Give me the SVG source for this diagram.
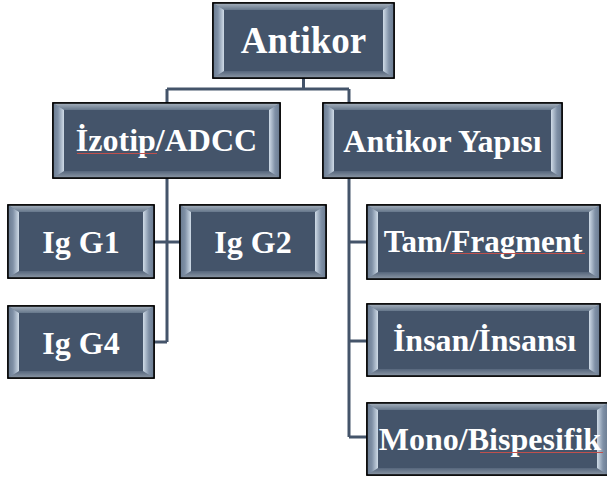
<svg xmlns="http://www.w3.org/2000/svg" width="607" height="477" viewBox="0 0 607 477">
<style>
.o{fill:#6b7a8e;stroke:#000;stroke-width:1.5}
.t{fill:url(#gt)}
.b{fill:url(#gb)}
.l{fill:url(#gl)}
.r{fill:url(#gr)}
.in{fill:#44546a}
.fr{fill:none;stroke:#000;stroke-width:1.5}
.c{fill:none;stroke:#44546a;stroke-width:3}
.sp{stroke:#c0504d;stroke-width:1.2;fill:none}
</style>
<defs>
<linearGradient id="gt" x1="0" y1="0" x2="0" y2="1"><stop offset="0" stop-color="#a7b2be"/><stop offset="1" stop-color="#66778b"/></linearGradient>
<linearGradient id="gb" x1="0" y1="1" x2="0" y2="0"><stop offset="0" stop-color="#8c98a6"/><stop offset="1" stop-color="#56667c"/></linearGradient>
<linearGradient id="gl" x1="0" y1="0" x2="1" y2="0"><stop offset="0" stop-color="#6a7b90"/><stop offset="0.45" stop-color="#7f90a6"/><stop offset="1" stop-color="#cfdbe7"/></linearGradient>
<linearGradient id="gr" x1="1" y1="0" x2="0" y2="0"><stop offset="0" stop-color="#6a7b90"/><stop offset="0.45" stop-color="#7f90a6"/><stop offset="1" stop-color="#cfdbe7"/></linearGradient>
</defs>
<rect width="607" height="477" fill="#fff"/>
<g id="connectors">
<path class="c" d="M303.5 78V89M167 89H349M167 89V103M349 89V103"/>
<path class="c" d="M167 178V342M154 342H167M154 242H180"/>
<path class="c" d="M349 178V437M349 242H367M349 341H367M349 437H367"/>
</g>
<g font-family="Liberation Serif" font-weight="bold" font-size="32" fill="#fff" text-anchor="middle">
<g id="antikor">
<rect class="o" x="213" y="3" width="181" height="75"/>
<polygon class="t" points="213,3 394,3 383,10 224,10"/>
<polygon class="b" points="213,78 394,78 383,71 224,71"/>
<polygon class="l" points="213,3 224,10 224,71 213,78"/>
<polygon class="r" points="394,3 383,10 383,71 394,78"/>
<rect class="in" x="224" y="10" width="159" height="61"/>
<rect class="fr" x="213" y="3" width="181" height="75"/>
<text x="303.5" y="53" font-size="37">Antikor</text>
</g>
<g id="izotip">
<rect class="o" x="53" y="103" width="227" height="75"/>
<polygon class="t" points="53,103 280,103 269,110 64,110"/>
<polygon class="b" points="53,178 280,178 269,171 64,171"/>
<polygon class="l" points="53,103 64,110 64,171 53,178"/>
<polygon class="r" points="280,103 269,110 269,171 280,178"/>
<rect class="in" x="64" y="110" width="205" height="61"/>
<rect class="fr" x="53" y="103" width="227" height="75"/>
<text x="166.5" y="151">İzotip/ADCC</text>
<path class="sp" d="M77 153.5H157"/>
</g>
<g id="yapisi">
<rect class="o" x="323" y="103" width="239" height="75"/>
<polygon class="t" points="323,103 562,103 551,110 334,110"/>
<polygon class="b" points="323,178 562,178 551,171 334,171"/>
<polygon class="l" points="323,103 334,110 334,171 323,178"/>
<polygon class="r" points="562,103 551,110 551,171 562,178"/>
<rect class="in" x="334" y="110" width="217" height="61"/>
<rect class="fr" x="323" y="103" width="239" height="75"/>
<text x="442.5" y="152">Antikor Yapısı</text>
</g>
<g id="g1">
<rect class="o" x="8" y="205" width="146" height="73"/>
<polygon class="t" points="8,205 154,205 143,212 19,212"/>
<polygon class="b" points="8,278 154,278 143,271 19,271"/>
<polygon class="l" points="8,205 19,212 19,271 8,278"/>
<polygon class="r" points="154,205 143,212 143,271 154,278"/>
<rect class="in" x="19" y="212" width="124" height="59"/>
<rect class="fr" x="8" y="205" width="146" height="73"/>
<text x="81" y="253">Ig G1</text>
</g>
<g id="g2">
<rect class="o" x="180" y="205" width="146" height="73"/>
<polygon class="t" points="180,205 326,205 315,212 191,212"/>
<polygon class="b" points="180,278 326,278 315,271 191,271"/>
<polygon class="l" points="180,205 191,212 191,271 180,278"/>
<polygon class="r" points="326,205 315,212 315,271 326,278"/>
<rect class="in" x="191" y="212" width="124" height="59"/>
<rect class="fr" x="180" y="205" width="146" height="73"/>
<text x="253" y="253">Ig G2</text>
</g>
<g id="g4">
<rect class="o" x="8" y="306" width="146" height="72"/>
<polygon class="t" points="8,306 154,306 143,313 19,313"/>
<polygon class="b" points="8,378 154,378 143,371 19,371"/>
<polygon class="l" points="8,306 19,313 19,371 8,378"/>
<polygon class="r" points="154,306 143,313 143,371 154,378"/>
<rect class="in" x="19" y="313" width="124" height="58"/>
<rect class="fr" x="8" y="306" width="146" height="72"/>
<text x="81" y="354">Ig G4</text>
</g>
<g id="tam">
<rect class="o" x="367" y="205" width="233" height="74"/>
<polygon class="t" points="367,205 600,205 589,212 378,212"/>
<polygon class="b" points="367,279 600,279 589,272 378,272"/>
<polygon class="l" points="367,205 378,212 378,272 367,279"/>
<polygon class="r" points="600,205 589,212 589,272 600,279"/>
<rect class="in" x="378" y="212" width="211" height="60"/>
<rect class="fr" x="367" y="205" width="233" height="74"/>
<text x="483" y="252" font-size="31">Tam/Fragment</text>
<path class="sp" d="M450 253.5H585"/>
</g>
<g id="insan">
<rect class="o" x="367" y="304" width="233" height="72"/>
<polygon class="t" points="367,304 600,304 589,311 378,311"/>
<polygon class="b" points="367,376 600,376 589,369 378,369"/>
<polygon class="l" points="367,304 378,311 378,369 367,376"/>
<polygon class="r" points="600,304 589,311 589,369 600,376"/>
<rect class="in" x="378" y="311" width="211" height="58"/>
<rect class="fr" x="367" y="304" width="233" height="72"/>
<text x="484.5" y="351">İnsan/İnsansı</text>
</g>
<g id="mono">
<rect class="o" x="367" y="403" width="241" height="72"/>
<polygon class="t" points="367,403 608,403 597,410 378,410"/>
<polygon class="b" points="367,475 608,475 597,468 378,468"/>
<polygon class="l" points="367,403 378,410 378,468 367,475"/>
<polygon class="r" points="608,403 597,410 597,468 608,475"/>
<rect class="in" x="378" y="410" width="219" height="58"/>
<rect class="fr" x="367" y="403" width="241" height="72"/>
<text x="490" y="450">Mono/Bispesifik</text>
<path class="sp" d="M480 452.5H603"/>
</g>
</g>
</svg>
